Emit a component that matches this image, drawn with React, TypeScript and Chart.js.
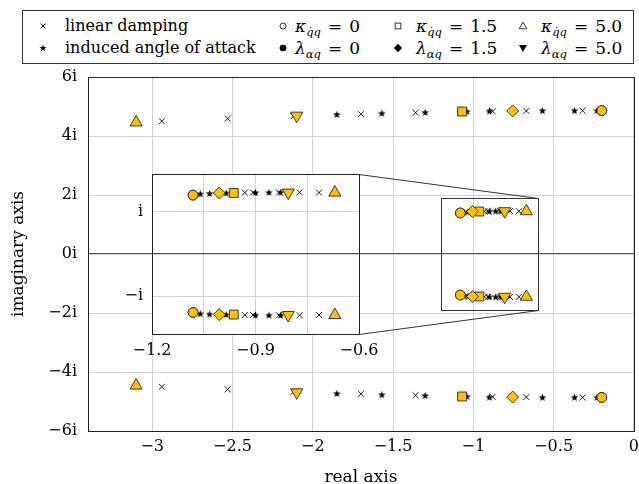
import React, { useEffect, useRef } from "react";
import { Chart, registerables } from "chart.js";

Chart.register(...registerables);

// ---------------- data ----------------
// linear damping (x marks): outer branch, then inner branch, conjugates below
const linearDampingRe = [
  -2.94, -2.53, -2.12, -1.7, -1.36, -0.88, -0.67, -0.32, -0.931, -0.907, -0.832, -0.772, -0.716,
  -2.94, -2.53, -2.12, -1.7, -1.36, -0.88, -0.67, -0.32, -0.931, -0.907, -0.832, -0.772, -0.716,
];
const linearDampingIm = [
  4.5, 4.59, 4.67, 4.74, 4.79, 4.84, 4.85, 4.86, 1.45, 1.45, 1.455, 1.455, 1.45,
  -4.5, -4.59, -4.67, -4.74, -4.79, -4.84, -4.85, -4.86, -1.45, -1.45, -1.455, -1.455, -1.45,
];
// induced angle of attack (star marks)
const inducedAoaRe = [
  -1.85, -1.57, -1.3, -1.04, -0.9, -0.57, -0.37, -0.23, -1.06, -1.033, -0.985, -0.9, -0.861, -0.827,
  -1.85, -1.57, -1.3, -1.04, -0.9, -0.57, -0.37, -0.23, -1.06, -1.033, -0.985, -0.9, -0.861, -0.827,
];
const inducedAoaIm = [
  4.73, 4.77, 4.8, 4.83, 4.85, 4.86, 4.86, 4.86, 1.42, 1.43, 1.44, 1.45, 1.455, 1.455,
  -4.73, -4.77, -4.8, -4.83, -4.85, -4.86, -4.86, -4.86, -1.42, -1.43, -1.44, -1.45, -1.455, -1.455,
];
// kappa_{q̇q} markers
const kappa0Re = [-0.2, -0.2, -1.081, -1.081];
const kappa0Im = [4.86, -4.86, 1.39, -1.39];
const kappa15Re = [-1.07, -1.07, -0.963, -0.963];
const kappa15Im = [4.83, -4.83, 1.44, -1.44];
const kappa5Re = [-3.1, -3.1, -0.67, -0.67];
const kappa5Im = [4.46, -4.46, 1.45, -1.45];
// lambda_{αq} markers
const lambda0Re = [-0.2, -0.2, -1.081, -1.081];
const lambda0Im = [4.86, -4.86, 1.39, -1.39];
const lambda15Re = [-0.755, -0.755, -1.005, -1.005];
const lambda15Im = [4.85, -4.85, 1.44, -1.44];
const lambda5Re = [-2.1, -2.1, -0.805, -0.805];
const lambda5Im = [4.69, -4.69, 1.45, -1.45];

// ticks
const xTickValues = [-3, -2.5, -2, -1.5, -1, -0.5, 0];
const yTickValues = [-6, -4, -2, 0, 2, 4, 6];
const insetXTickValues = [-1.2, -1.05, -0.9, -0.75, -0.6];
const insetXLabelled = [-1.2, -0.9, -0.6];
const insetYTickValues = [-1, 0, 1];
const insetYTickLabels = ["\u2212i", "", "i"];

// ranges
const mainRangeRe = [-3.4, 0];
const mainRangeIm = [-6, 6];
const zoomRe = [-1.2, -0.6];
const zoomIm = [-1.9, 1.9];
const insetPlaceRe = [-3.0, -1.71];
const insetPlaceIm = [-2.7, 2.7];

// ---------------- styling ----------------
const SERIF = "'DejaVu Serif', serif";
const GOLD = "#ffc000";
const EDGE = "#262626";
const GRID = "#d0d0d0";
const ZERO = "#555555";

const W = 639;
const H = 484;
const MAIN_AREA = { l: 88, t: 77, r: 634, b: 431 };

const fmt = (v: number) => {
  const s = String(Math.abs(+v.toFixed(2)));
  return v < 0 ? "\u2212" + s : s;
};

const toPts = (re: number[], im: number[]) => re.map((x, i) => ({ x, y: im[i] }));

function makeStar(): HTMLCanvasElement {
  const size = 9;
  const c = document.createElement("canvas");
  c.width = size;
  c.height = size;
  const ctx = c.getContext("2d")!;
  ctx.fillStyle = "#000";
  ctx.beginPath();
  const cx = size / 2;
  const cy = size / 2 + 0.3;
  const R = 4.1;
  const r = 1.7;
  for (let i = 0; i < 10; i++) {
    const a = -Math.PI / 2 + (i * Math.PI) / 5;
    const rad = i % 2 === 0 ? R : r;
    ctx.lineTo(cx + rad * Math.cos(a), cy + rad * Math.sin(a));
  }
  ctx.closePath();
  ctx.fill();
  return c;
}

function buildDatasets(star: HTMLCanvasElement, clip?: number) {
  const extra = clip !== undefined ? { clip } : {};
  const gold = (label: string, re: number[], im: number[], style: string, radius: number, rotation = 0) => ({
    label,
    data: toPts(re, im),
    pointStyle: style,
    pointRadius: radius,
    pointHoverRadius: radius,
    pointRotation: rotation,
    pointBackgroundColor: GOLD,
    pointBorderColor: EDGE,
    pointBorderWidth: 0.9,
    ...extra,
  });
  return [
    gold("κ=5.0", kappa5Re, kappa5Im, "triangle", 7),
    gold("λ=5.0", lambda5Re, lambda5Im, "triangle", 7, 180),
    gold("λ=1.5", lambda15Re, lambda15Im, "rectRot", 6),
    gold("κ=1.5", kappa15Re, kappa15Im, "rect", 6.3),
    gold("λ=0", lambda0Re, lambda0Im, "circle", 4.9),
    gold("κ=0", kappa0Re, kappa0Im, "circle", 4.9),
    {
      label: "induced angle of attack",
      data: toPts(inducedAoaRe, inducedAoaIm),
      pointStyle: star,
      pointRadius: 4,
      pointHoverRadius: 4,
      ...extra,
    },
    {
      label: "linear damping",
      data: toPts(linearDampingRe, linearDampingIm),
      pointStyle: "crossRot",
      pointRadius: 4.2,
      pointHoverRadius: 4.2,
      pointBorderColor: "#000",
      pointBorderWidth: 0.9,
      ...extra,
    },
  ];
}

const al = (v: number) => Math.round(v) + 0.5;

function makeMainDecor(getInset: () => { l: number; t: number; r: number; b: number } | null) {
  return {
    id: "mainDecor",
    afterDraw(chart: any) {
      const { ctx, chartArea: a, scales } = chart;
      const x = scales.x;
      const y = scales.y;
      ctx.save();
      ctx.strokeStyle = "#222";
      ctx.lineWidth = 1;
      ctx.strokeRect(al(a.left), al(a.top), Math.round(a.right) - Math.round(a.left), Math.round(a.bottom) - Math.round(a.top));
      // zoom window
      const zx1 = x.getPixelForValue(zoomRe[0]);
      const zx2 = x.getPixelForValue(zoomRe[1]);
      const zy1 = y.getPixelForValue(zoomIm[1]);
      const zy2 = y.getPixelForValue(zoomIm[0]);
      ctx.strokeStyle = "#333";
      ctx.strokeRect(al(zx1), al(zy1), Math.round(zx2) - Math.round(zx1), Math.round(zy2) - Math.round(zy1));
      // connectors to the inset
      const ix2 = x.getPixelForValue(insetPlaceRe[1]);
      const iy1 = y.getPixelForValue(insetPlaceIm[1]);
      const iy2 = y.getPixelForValue(insetPlaceIm[0]);
      ctx.beginPath();
      ctx.moveTo(Math.round(ix2), Math.round(iy1) + 0.5);
      ctx.lineTo(al(zx2), al(zy1));
      ctx.moveTo(Math.round(ix2), Math.round(iy2) + 0.5);
      ctx.lineTo(al(zx2), al(zy2));
      ctx.stroke();
      ctx.restore();
    },
  };
}

const insetDecor = {
  id: "insetDecor",
  beforeDraw(chart: any) {
    const { ctx, chartArea: a } = chart;
    ctx.save();
    ctx.fillStyle = "#fff";
    ctx.fillRect(a.left, a.top, a.width, a.height);
    ctx.restore();
  },
  afterDraw(chart: any) {
    const { ctx, chartArea: a } = chart;
    ctx.save();
    ctx.strokeStyle = "#222";
    ctx.lineWidth = 1;
    ctx.strokeRect(al(a.left), al(a.top), Math.round(a.right) - Math.round(a.left), Math.round(a.bottom) - Math.round(a.top));
    ctx.restore();
  },
};

function mainConfig(star: HTMLCanvasElement): any {
  return {
    type: "scatter",
    data: { datasets: buildDatasets(star) },
    plugins: [makeMainDecor(() => null)],
    options: {
      responsive: false,
      maintainAspectRatio: false,
      animation: false,
      events: [],
      layout: { padding: { top: 77, right: 4, bottom: 0, left: 0 } },
      plugins: { legend: { display: false }, tooltip: { enabled: false } },
      scales: {
        x: {
          type: "linear",
          min: mainRangeRe[0],
          max: mainRangeRe[1],
          afterBuildTicks: (s: any) => {
            s.ticks = xTickValues.map((v) => ({ value: v }));
          },
          afterFit: (s: any) => {
            s.height = 57;
          },
          ticks: {
            callback: (v: any) => fmt(Number(v)),
            color: "#000",
            font: { family: SERIF, size: 16 },
            padding: 6,
            maxRotation: 0,
          },
          grid: { color: GRID, lineWidth: 1, drawTicks: false },
          border: { display: false },
          title: {
            display: true,
            text: "real axis",
            color: "#000",
            font: { family: SERIF, size: 17 },
            padding: { top: 0, bottom: 0 },
          },
        },
        y: {
          type: "linear",
          min: mainRangeIm[0],
          max: mainRangeIm[1],
          afterBuildTicks: (s: any) => {
            s.ticks = yTickValues.map((v) => ({ value: v }));
          },
          afterFit: (s: any) => {
            s.width = 88;
          },
          ticks: {
            callback: (v: any) => fmt(Number(v)) + "i",
            color: "#000",
            font: { family: SERIF, size: 16 },
            padding: 11,
          },
          grid: {
            color: (c: any) => (c.tick && c.tick.value === 0 ? ZERO : GRID),
            lineWidth: (c: any) => (c.tick && c.tick.value === 0 ? 1.3 : 1),
            drawTicks: false,
          },
          border: { display: false },
          title: {
            display: true,
            text: "imaginary axis",
            color: "#000",
            font: { family: SERIF, size: 17 },
            padding: { top: 8, bottom: 0 },
          },
        },
      },
    },
  };
}

function insetConfig(star: HTMLCanvasElement): any {
  return {
    type: "scatter",
    data: { datasets: buildDatasets(star, 0) },
    plugins: [insetDecor],
    options: {
      responsive: false,
      maintainAspectRatio: false,
      animation: false,
      events: [],
      layout: { padding: { top: 4, right: 36, bottom: 0, left: 0 } },
      plugins: { legend: { display: false }, tooltip: { enabled: false } },
      scales: {
        x: {
          type: "linear",
          min: zoomRe[0],
          max: zoomRe[1],
          afterBuildTicks: (s: any) => {
            s.ticks = insetXTickValues.map((v) => ({ value: v }));
          },
          afterFit: (s: any) => {
            s.height = 32;
          },
          ticks: {
            callback: (v: any) => (insetXLabelled.some((t) => Math.abs(t - Number(v)) < 1e-9) ? fmt(Number(v)) : ""),
            color: "#000",
            font: { family: SERIF, size: 16 },
            padding: 7,
            maxRotation: 0,
            autoSkip: false,
          },
          grid: { color: GRID, lineWidth: 1, drawTicks: false },
          border: { display: false },
        },
        y: {
          type: "linear",
          min: zoomIm[0],
          max: zoomIm[1],
          afterBuildTicks: (s: any) => {
            s.ticks = insetYTickValues.map((v) => ({ value: v }));
          },
          afterFit: (s: any) => {
            s.width = 43;
          },
          ticks: {
            callback: (v: any) => {
              const i = insetYTickValues.findIndex((t) => Math.abs(t - Number(v)) < 1e-9);
              return i >= 0 ? insetYTickLabels[i] : "";
            },
            color: "#000",
            font: { family: SERIF, size: 16 },
            padding: 9,
          },
          grid: {
            color: (c: any) => (c.tick && c.tick.value === 0 ? ZERO : GRID),
            lineWidth: (c: any) => (c.tick && c.tick.value === 0 ? 1.3 : 1),
            drawTicks: false,
          },
          border: { display: false },
        },
      },
    },
  };
}

// create a chart so that its plot area lands on the wanted page rectangle
function placeChart(canvas: HTMLCanvasElement, make: () => any, area: { l: number; t: number; r: number; b: number }) {
  const setCanvas = (left: number, top: number, w: number, h: number) => {
    canvas.width = w;
    canvas.height = h;
    canvas.style.width = w + "px";
    canvas.style.height = h + "px";
    canvas.style.left = left + "px";
    canvas.style.top = top + "px";
  };
  const w0 = Math.round(area.r - area.l) + 120;
  const h0 = Math.round(area.b - area.t) + 120;
  setCanvas(0, 0, w0, h0);
  let chart = new Chart(canvas, make());
  const a = chart.chartArea;
  const mL = Math.round(a.left);
  const mT = Math.round(a.top);
  const mR = w0 - Math.round(a.right);
  const mB = h0 - Math.round(a.bottom);
  chart.destroy();
  setCanvas(
    Math.round(area.l) - mL,
    Math.round(area.t) - mT,
    Math.round(area.r) - Math.round(area.l) + mL + mR,
    Math.round(area.b) - Math.round(area.t) + mT + mB
  );
  chart = new Chart(canvas, make());
  return { chart, left: Math.round(area.l) - mL, top: Math.round(area.t) - mT };
}

function Mark({ kind, cx, cy }: { kind: string; cx: number; cy: number }) {
  let el: any = null;
  switch (kind) {
    case "cross":
      el = <path d="M3.6 3.6 L8.4 8.4 M8.4 3.6 L3.6 8.4" stroke="#000" strokeWidth="0.9" fill="none" />;
      break;
    case "star": {
      const p: string[] = [];
      for (let i = 0; i < 10; i++) {
        const a = -Math.PI / 2 + (i * Math.PI) / 5;
        const r = i % 2 === 0 ? 3.7 : 1.5;
        p.push(`${6 + r * Math.cos(a)},${6.3 + r * Math.sin(a)}`);
      }
      el = <polygon points={p.join(" ")} fill="#000" />;
      break;
    }
    case "circleOpen":
      el = <circle cx="6" cy="6" r="3" fill="#fff" stroke="#000" strokeWidth="0.8" />;
      break;
    case "squareOpen":
      el = <rect x="3.1" y="3.1" width="5.8" height="5.8" fill="#fff" stroke="#000" strokeWidth="0.8" />;
      break;
    case "triangleOpen":
      el = <polygon points="6,2.2 9.8,8.8 2.2,8.8" fill="#fff" stroke="#000" strokeWidth="0.8" />;
      break;
    case "circle":
      el = <circle cx="6" cy="6" r="3.3" fill="#000" />;
      break;
    case "diamond":
      el = <polygon points="6,1.8 10.2,6 6,10.2 1.8,6" fill="#000" />;
      break;
    case "triangleDown":
      el = <polygon points="2,3 10,3 6,10" fill="#000" />;
      break;
  }
  return (
    <svg width={12} height={12} style={{ position: "absolute", left: cx - 6, top: cy - 6 }}>
      {el}
    </svg>
  );
}

function MathLabel({ sym, sub, value }: { sym: string; sub: string; value: string }) {
  return (
    <span style={{ whiteSpace: "nowrap", fontSize: 17 }}>
      <i>{sym}</i>
      <sub style={{ fontStyle: "italic", fontSize: 11.5, verticalAlign: -4, lineHeight: 0 }}>{sub}</sub>
      <span style={{ margin: "0 7px" }}>=</span>
      {value}
    </span>
  );
}

const legendRows = [26, 48];

export default function App() {
  const mainRef = useRef<HTMLCanvasElement>(null);
  const insetRef = useRef<HTMLCanvasElement>(null);

  useEffect(() => {
    const star = makeStar();
    const m = placeChart(mainRef.current!, () => mainConfig(star), MAIN_AREA);
    const main = m.chart;

    // place the inset from the main chart's own scales
    const xs: any = main.scales.x;
    const ys: any = main.scales.y;
    const insetArea = {
      l: m.left + xs.getPixelForValue(insetPlaceRe[0]),
      r: m.left + xs.getPixelForValue(insetPlaceRe[1]),
      t: m.top + ys.getPixelForValue(insetPlaceIm[1]),
      b: m.top + ys.getPixelForValue(insetPlaceIm[0]),
    };
    const ins = placeChart(insetRef.current!, () => insetConfig(star), insetArea);

    return () => {
      ins.chart.destroy();
      main.destroy();
    };
  }, []);

  const textStyle = (x: number, y: number): any => ({
    position: "absolute",
    left: x,
    top: y - 11,
    height: 22,
    lineHeight: "22px",
    whiteSpace: "nowrap",
  });

  return (
    <div
      style={{
        position: "absolute",
        left: 0,
        top: 0,
        width: W,
        height: H,
        background: "#fff",
        overflow: "hidden",
        fontFamily: SERIF,
        fontSize: 16,
        color: "#000",
      }}
    >
      <canvas ref={mainRef} style={{ position: "absolute" }} />
      <canvas ref={insetRef} style={{ position: "absolute" }} />
      <div
        style={{
          position: "absolute",
          left: 22,
          top: 10,
          width: 612,
          height: 54,
          boxSizing: "border-box",
          border: "1px solid #333",
          background: "#fff",
        }}
      />
      <div style={{ position: "absolute", left: 0, top: 0 }}>
        <Mark kind="cross" cx={43} cy={legendRows[0]} />
        <span style={textStyle(65, legendRows[0])}>linear damping</span>
        <Mark kind="star" cx={43} cy={legendRows[1]} />
        <span style={textStyle(65, legendRows[1])}>induced angle of attack</span>

        <Mark kind="circleOpen" cx={283} cy={legendRows[0]} />
        <span style={textStyle(295, legendRows[0])}>
          <MathLabel sym="κ" sub={"q\u0307q"} value="0" />
        </span>
        <Mark kind="circle" cx={283} cy={legendRows[1]} />
        <span style={textStyle(295, legendRows[1])}>
          <MathLabel sym="λ" sub="αq" value="0" />
        </span>

        <Mark kind="squareOpen" cx={398} cy={legendRows[0]} />
        <span style={textStyle(416, legendRows[0])}>
          <MathLabel sym="κ" sub={"q\u0307q"} value="1.5" />
        </span>
        <Mark kind="diamond" cx={398} cy={legendRows[1]} />
        <span style={textStyle(416, legendRows[1])}>
          <MathLabel sym="λ" sub="αq" value="1.5" />
        </span>

        <Mark kind="triangleOpen" cx={523} cy={legendRows[0]} />
        <span style={textStyle(541, legendRows[0])}>
          <MathLabel sym="κ" sub={"q\u0307q"} value="5.0" />
        </span>
        <Mark kind="triangleDown" cx={523} cy={legendRows[1]} />
        <span style={textStyle(541, legendRows[1])}>
          <MathLabel sym="λ" sub="αq" value="5.0" />
        </span>
      </div>
    </div>
  );
}
